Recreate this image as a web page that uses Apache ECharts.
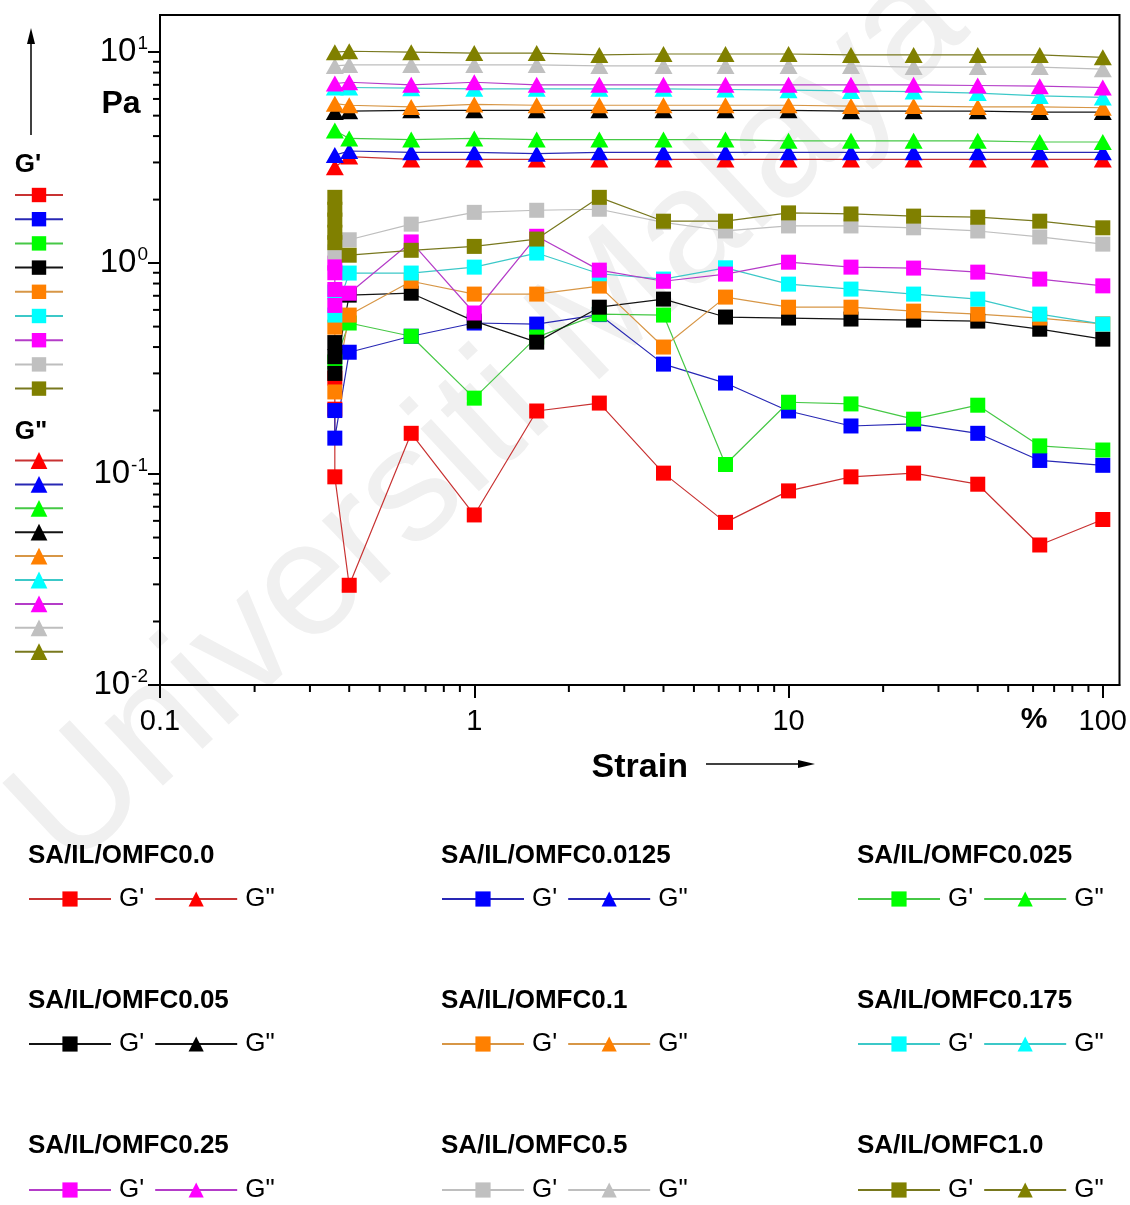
<!DOCTYPE html>
<html>
<head>
<meta charset="utf-8">
<script src="https://cdn.jsdelivr.net/npm/echarts@6/dist/echarts.min.js"></script>
<style>
  html, body { margin: 0; padding: 0; background: #ffffff; }
  #chart { width: 1130px; height: 1205px; }
</style>
</head>
<body>
<div id="chart"></div>
<script>
// Strain sweep: storage (G') and loss (G'') moduli of SA/IL/OMFC films
const FONT = '"Liberation Sans", Arial, Helvetica, sans-serif';

const sampleNames = [
  'SA/IL/OMFC0.0', 'SA/IL/OMFC0.0125', 'SA/IL/OMFC0.025',
  'SA/IL/OMFC0.05', 'SA/IL/OMFC0.1', 'SA/IL/OMFC0.175',
  'SA/IL/OMFC0.25', 'SA/IL/OMFC0.5', 'SA/IL/OMFC1.0'
];
const markerColors = ['#ff0000', '#0000ff', '#00ff00', '#000000', '#ff8000', '#00ffff', '#ff00ff', '#c0c0c0', '#808000'];
const lineColors   = ['#c83232', '#2828b4', '#46c846', '#141414', '#d79646', '#3cc8c8', '#b43cc8', '#bebebe', '#78781e'];

// strain (%) of the logarithmic sweep after the first readings
const strainTail = [0.63, 1, 1.58, 2.5, 4, 6.3, 10, 15.8, 25, 40, 63, 100];

// G'' (Pa), read at 0.36 %, 0.4 % and then strainTail
const strainLoss = [0.36, 0.4].concat(strainTail);
const loss00   = [2.85, 3.2, 3.1, 3.1, 3.1, 3.1, 3.1, 3.1, 3.1, 3.1, 3.1, 3.1, 3.1, 3.1];
const loss0125 = [3.25, 3.4, 3.35, 3.35, 3.3, 3.35, 3.35, 3.35, 3.35, 3.35, 3.35, 3.35, 3.35, 3.35];
const loss025  = [4.25, 3.9, 3.85, 3.9, 3.85, 3.85, 3.85, 3.85, 3.8, 3.8, 3.8, 3.8, 3.75, 3.75];
const loss05   = [5.2, 5.25, 5.3, 5.3, 5.3, 5.3, 5.3, 5.3, 5.3, 5.25, 5.25, 5.25, 5.2, 5.2];
const loss1    = [5.7, 5.6, 5.5, 5.65, 5.6, 5.6, 5.6, 5.6, 5.6, 5.55, 5.55, 5.5, 5.5, 5.45];
const loss175  = [6.8, 6.8, 6.75, 6.7, 6.7, 6.7, 6.7, 6.65, 6.6, 6.55, 6.5, 6.4, 6.2, 6.1];
const loss25   = [7.1, 7.2, 7.0, 7.2, 7.0, 7.0, 7.0, 7.0, 7.0, 7.0, 7.0, 6.95, 6.9, 6.8];
const loss5    = [8.6, 8.7, 8.7, 8.7, 8.7, 8.6, 8.6, 8.6, 8.6, 8.6, 8.5, 8.5, 8.5, 8.3];
const loss10   = [10.0, 10.1, 10.0, 9.9, 9.9, 9.7, 9.8, 9.8, 9.8, 9.7, 9.7, 9.7, 9.7, 9.45];

// G' (Pa): the first readings (strainHead) followed by strainTail
const strainHead00   = [0.36, 0.36, 0.36, 0.4];
const storage00      = [0.285, 0.203, 0.097, 0.0297, 0.156, 0.064, 0.199, 0.217, 0.101, 0.059, 0.0832, 0.097, 0.101, 0.0895, 0.0461, 0.0609];
const strainHead0125 = [0.36, 0.36, 0.4];
const storage0125    = [0.2, 0.148, 0.378, 0.45, 0.52, 0.514, 0.57, 0.332, 0.27, 0.199, 0.169, 0.173, 0.156, 0.116, 0.110];
const strainHead025  = [0.36, 0.4];
const storage025     = [0.34, 0.52, 0.45, 0.229, 0.446, 0.573, 0.567, 0.111, 0.219, 0.215, 0.182, 0.212, 0.136, 0.130];
const strainHead05   = [0.36, 0.36, 0.36, 0.4];
const storage05      = [0.42, 0.36, 0.30, 0.705, 0.72, 0.531, 0.422, 0.618, 0.675, 0.555, 0.549, 0.543, 0.537, 0.531, 0.486, 0.436];
const strainHead1    = [0.36, 0.36, 0.4];
const storage1       = [0.497, 0.245, 0.567, 0.82, 0.713, 0.713, 0.778, 0.40, 0.69, 0.618, 0.618, 0.592, 0.573, 0.549, 0.515];
const strainHead175  = [0.36, 0.36, 0.4];
const storage175     = [0.73, 0.567, 0.897, 0.897, 0.957, 1.116, 0.89, 0.84, 0.95, 0.795, 0.753, 0.713, 0.675, 0.573, 0.514];
const strainHead25   = [0.36, 0.36, 0.36, 0.36, 0.4];
const storage25      = [1.0, 0.9, 0.75, 0.63, 0.72, 1.26, 0.58, 1.34, 0.926, 0.82, 0.887, 1.01, 0.957, 0.947, 0.906, 0.84, 0.78];
const strainHead5    = [0.36, 0.4];
const storage5       = [1.13, 1.29, 1.53, 1.74, 1.78, 1.8, 1.56, 1.42, 1.5, 1.5, 1.47, 1.42, 1.33, 1.23];
const strainHead10   = [0.36, 0.36, 0.36, 0.36, 0.36, 0.4];
const storage10      = [2.05, 1.8, 1.6, 1.4, 1.25, 1.09, 1.15, 1.2, 1.3, 2.05, 1.58, 1.58, 1.73, 1.71, 1.67, 1.65, 1.58, 1.47];

// axis decades and minor tick multiples
const xDecades = [0.1, 1, 10, 100];
const yDecades = [0.01, 0.1, 1, 10];
const minorMultiples = [2, 3, 4, 5, 6, 7, 8, 9];
const X_MIN = 0.1, X_MAX = 113, Y_MIN = 0.01, Y_MAX = 15;

const lossSets = [loss00, loss0125, loss025, loss05, loss1, loss175, loss25, loss5, loss10];
const storageHeads = [strainHead00, strainHead0125, strainHead025, strainHead05, strainHead1, strainHead175, strainHead25, strainHead5, strainHead10];
const storageSets = [storage00, storage0125, storage025, storage05, storage1, storage175, storage25, storage5, storage10];

const gpName = n => n + " G'";
const gppName = n => n + ' G"';

const series = [];
sampleNames.forEach((name, i) => {
  series.push({
    type: 'line', name: gppName(name),
    data: strainLoss.map((x, k) => [x, lossSets[i][k]]),
    symbol: 'triangle', symbolSize: [18, 16],
    itemStyle: { color: markerColors[i] },
    lineStyle: { color: lineColors[i], width: 1.2 },
    z: 3
  });
});
sampleNames.forEach((name, i) => {
  const xs = storageHeads[i].concat(strainTail);
  series.push({
    type: 'line', name: gpName(name),
    data: xs.map((x, k) => [x, storageSets[i][k]]),
    symbol: 'rect', symbolSize: 15,
    itemStyle: { color: markerColors[i] },
    lineStyle: { color: lineColors[i], width: 1.2 },
    z: 4
  });
});

// minor ticks of both log axes, placed through the axis scales
const minorX = [], minorY = [];
xDecades.forEach(d => minorMultiples.forEach(m => { const v = d * m; if (v < X_MAX) minorX.push([v, Y_MIN]); }));
yDecades.forEach(d => minorMultiples.forEach(m => { const v = d * m; if (v < Y_MAX) minorY.push([X_MIN, v]); }));
series.push({
  type: 'custom', silent: true, clip: false, z: 6,
  data: minorX,
  renderItem: (p, api) => {
    const pt = api.coord([api.value(0), api.value(1)]);
    return { type: 'line', shape: { x1: pt[0], y1: pt[1], x2: pt[0], y2: pt[1] + 7 }, style: { stroke: '#000', lineWidth: 2 } };
  }
});
series.push({
  type: 'custom', silent: true, clip: false, z: 6,
  data: minorY,
  renderItem: (p, api) => {
    const pt = api.coord([api.value(0), api.value(1)]);
    return { type: 'line', shape: { x1: pt[0] - 7, y1: pt[1], x2: pt[0], y2: pt[1] }, style: { stroke: '#000', lineWidth: 2 } };
  }
});

// legend blocks under the plot: one title + G'/G" pair per sample
const colLeft = [28, 441, 857];
const rowTitleTop = [843, 988, 1133];
const rowLegendTop = [886, 1031, 1177];
const titles = [], legends = [];
sampleNames.forEach((name, i) => {
  const c = i % 3, r = Math.floor(i / 3);
  titles.push({
    text: name, left: colLeft[c], top: rowTitleTop[r], padding: 0,
    textStyle: { fontFamily: FONT, fontSize: 26, fontWeight: 'bold', color: '#000' }
  });
  legends.push({
    orient: 'horizontal', left: colLeft[c], top: rowLegendTop[r], padding: 0,
    itemWidth: 82, itemHeight: 19, itemGap: 10, selectedMode: false,
    data: [gpName(name), gppName(name)],
    formatter: n => (n.endsWith('"') ? 'G"' : "G'"),
    textStyle: { fontFamily: FONT, fontSize: 26, color: '#000', padding: [0, 0, 0, 3] }
  });
});
// key strips at the left of the plot
legends.push({
  orient: 'vertical', left: 14, top: 186, padding: 0,
  itemWidth: 48, itemHeight: 18, itemGap: 8, selectedMode: false,
  data: sampleNames.map(gpName), formatter: () => '',
  textStyle: { fontSize: 6 }
});
legends.push({
  orient: 'vertical', left: 14, top: 450, padding: 0,
  itemWidth: 48, itemHeight: 21, itemGap: 5, selectedMode: false,
  data: sampleNames.map(gppName), formatter: () => '',
  textStyle: { fontSize: 6 }
});

const isDecade = v => Math.abs(Math.log10(v) - Math.round(Math.log10(v))) < 1e-6;

const option = {
  animation: false,
  backgroundColor: '#ffffff',
  title: titles,
  legend: legends,
  grid: { left: 160, right: 10, top: 15, bottom: 520, show: true, borderColor: '#000', borderWidth: 2, backgroundColor: 'transparent' },
  xAxis: {
    type: 'log', logBase: 10, min: X_MIN, max: X_MAX,
    name: 'Strain', nameLocation: 'middle', nameGap: 66,
    nameTextStyle: { fontFamily: FONT, fontSize: 34, fontWeight: 'bold', color: '#000' },
    axisLine: { show: true, lineStyle: { color: '#000', width: 2 } },
    axisTick: { show: true, length: 13, inside: false, lineStyle: { color: '#000', width: 2 }, customValues: xDecades },
    axisLabel: {
      fontFamily: FONT, fontSize: 29, color: '#000', margin: 22, customValues: xDecades,
      formatter: v => (isDecade(v) ? String(Number(v.toPrecision(3))) : '')
    },
    splitLine: { show: false }
  },
  yAxis: {
    type: 'log', logBase: 10, min: Y_MIN, max: Y_MAX,
    axisLine: { show: true, lineStyle: { color: '#000', width: 2 } },
    axisTick: { show: true, length: 12, inside: false, lineStyle: { color: '#000', width: 2 }, customValues: yDecades },
    axisLabel: {
      margin: 12, customValues: yDecades,
      formatter: v => (isDecade(v) ? '{b|10}{s|' + Math.round(Math.log10(v)) + '}' : ''),
      rich: {
        b: { fontFamily: FONT, fontSize: 33, color: '#000', lineHeight: 36 },
        s: { fontFamily: FONT, fontSize: 19, color: '#000', verticalAlign: 'top', lineHeight: 19, padding: [0, 0, 0, 1] }
      }
    },
    splitLine: { show: false }
  },
  graphic: [
    {
      type: 'text', z: -10, silent: true,
      x: 490, y: 420, rotation: 0.75,
      style: { text: 'Universiti Malaya', font: '162px ' + FONT, fill: '#f0f0f0', align: 'center', verticalAlign: 'middle' }
    },
    { type: 'text', silent: true, style: { text: 'Pa', x: 121, y: 104, font: 'bold 32px ' + FONT, fill: '#000', align: 'center', verticalAlign: 'middle' } },
    { type: 'text', silent: true, style: { text: '%', x: 1034, y: 720, font: 'bold 30px ' + FONT, fill: '#000', align: 'center', verticalAlign: 'middle' } },
    { type: 'text', silent: true, style: { text: "G'", x: 28, y: 165, font: 'bold 26px ' + FONT, fill: '#000', align: 'center', verticalAlign: 'middle' } },
    { type: 'text', silent: true, style: { text: 'G"', x: 31, y: 432, font: 'bold 26px ' + FONT, fill: '#000', align: 'center', verticalAlign: 'middle' } },
    { type: 'line', silent: true, shape: { x1: 31, y1: 135, x2: 31, y2: 42 }, style: { stroke: '#000', lineWidth: 1.5 } },
    { type: 'polygon', silent: true, shape: { points: [[31, 28], [27, 44], [35, 44]] }, style: { fill: '#000' } },
    { type: 'line', silent: true, shape: { x1: 706, y1: 764, x2: 800, y2: 764 }, style: { stroke: '#000', lineWidth: 1.5 } },
    { type: 'polygon', silent: true, shape: { points: [[815, 764], [798, 760], [798, 768]] }, style: { fill: '#000' } }
  ],
  series: series
};

const chart = echarts.init(document.getElementById('chart'), null, { renderer: 'canvas' });
chart.setOption(option);
</script>
</body>
</html>
